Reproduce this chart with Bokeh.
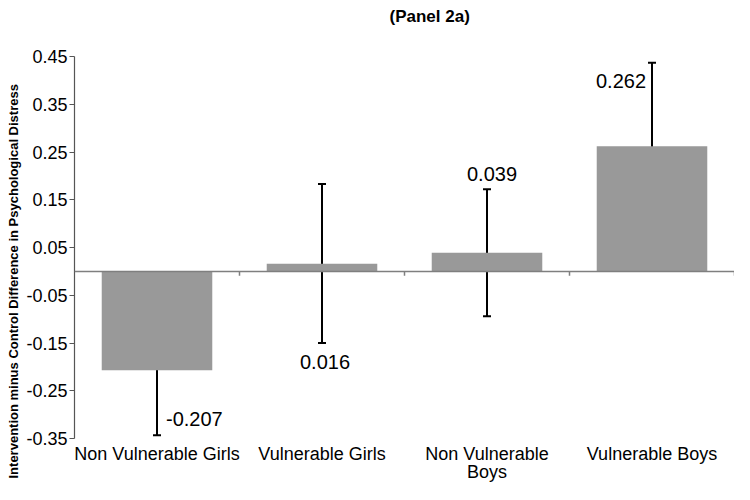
from bokeh.plotting import figure
from bokeh.models import (ColumnDataSource, FactorRange, Range1d, FixedTicker, Span,
                          Whisker, TeeHead, Title, NumeralTickFormatter)
from bokeh.core.properties import value
from bokeh.embed import file_html
from bokeh.resources import INLINE

# ---- data ----
categories = ["Non Vulnerable Girls", "Vulnerable Girls", "Non Vulnerable\nBoys", "Vulnerable Boys"]
differences = [-0.207, 0.016, 0.039, 0.262]
ci_upper = [-0.072, 0.183, 0.172, 0.437]
ci_lower = [-0.343, -0.150, -0.094, 0.088]
y_ticks = [-0.35, -0.25, -0.15, -0.05, 0.05, 0.15, 0.25, 0.35, 0.45]

# ---- label placement (style) ----
label_y = [-0.31, -0.189, 0.203, 0.398]
label_dx = [9, 3, 5, -6]
label_align = ["left", "center", "center", "right"]

FONT = "Liberation Sans"

src = ColumnDataSource(dict(
    cat=categories, diff=differences, upper=ci_upper, lower=ci_lower,
    ly=label_y, dx=label_dx, al=label_align,
    txt=[f"{v:.3f}" for v in differences],
))

p = figure(width=734, height=484, output_backend="svg", toolbar_location=None,
           x_range=FactorRange(factors=categories, range_padding=0, factor_padding=0),
           y_range=Range1d(y_ticks[0], y_ticks[-1]),
           min_border_left=0, min_border_right=0, min_border_top=0, min_border_bottom=0)
p.outline_line_color = None
p.xgrid.visible = False
p.ygrid.visible = False

p.vbar(x="cat", top="diff", bottom=0, width=0.67, source=src,
       fill_color="#999999", line_color=None)

# zero baseline with category-boundary ticks
p.add_layout(Span(location=0, dimension="width", line_color="#7f7f7f", line_width=1.5))
p.segment(x0=list(range(1, len(categories) + 1)), y0=[0] * len(categories),
          x1=list(range(1, len(categories) + 1)), y1=[-0.009] * len(categories),
          line_color="#7f7f7f", line_width=1.5)

# error bars
p.add_layout(Whisker(source=src, base="cat", upper="upper", lower="lower",
                     line_color="black", line_width=2,
                     upper_head=TeeHead(size=8, line_width=2, line_color="black"),
                     lower_head=TeeHead(size=8, line_width=2, line_color="black")))

# value labels
p.text(x="cat", y="ly", text="txt", x_offset="dx", text_align="al", source=src,
       text_baseline="middle", text_font=value(FONT), text_font_size="20px",
       text_color="black")

# axes
ya = p.yaxis[0]
ya.ticker = FixedTicker(ticks=y_ticks)
ya.formatter = NumeralTickFormatter(format="0.00")
ya.axis_line_color = "#555555"
ya.axis_line_width = 1.2
ya.major_tick_line_color = "#555555"
ya.major_tick_out = 5
ya.major_tick_in = 0
ya.minor_tick_line_color = None
ya.major_label_text_font = FONT
ya.major_label_text_font_size = "18px"
ya.major_label_text_color = "black"
ya.major_label_standoff = 2

xa = p.xaxis[0]
xa.axis_line_color = None
xa.major_tick_line_color = None
xa.minor_tick_line_color = None
xa.major_tick_out = 0
xa.major_tick_in = 0
xa.major_label_text_font = FONT
xa.major_label_text_font_size = "18px"
xa.major_label_text_color = "black"
xa.major_label_text_line_height = 0.9
xa.major_label_standoff = 5
xa.major_label_orientation = "horizontal"

# title and y-axis title
p.add_layout(Title(text="(Panel 2a)\n", align="left", offset=315, standoff=12,
                   vertical_align="top", text_line_height=1.2,
                   text_font=FONT, text_font_size="17px", text_font_style="bold",
                   text_color="black"), "above")
p.add_layout(Title(text="Intervention minus Control Difference in Psychological Distress",
                   align="left", offset=-40, standoff=6,
                   text_font=FONT, text_font_size="13px", text_font_style="bold",
                   text_color="black"), "left")

open("out.html", "w").write(file_html(p, INLINE))
